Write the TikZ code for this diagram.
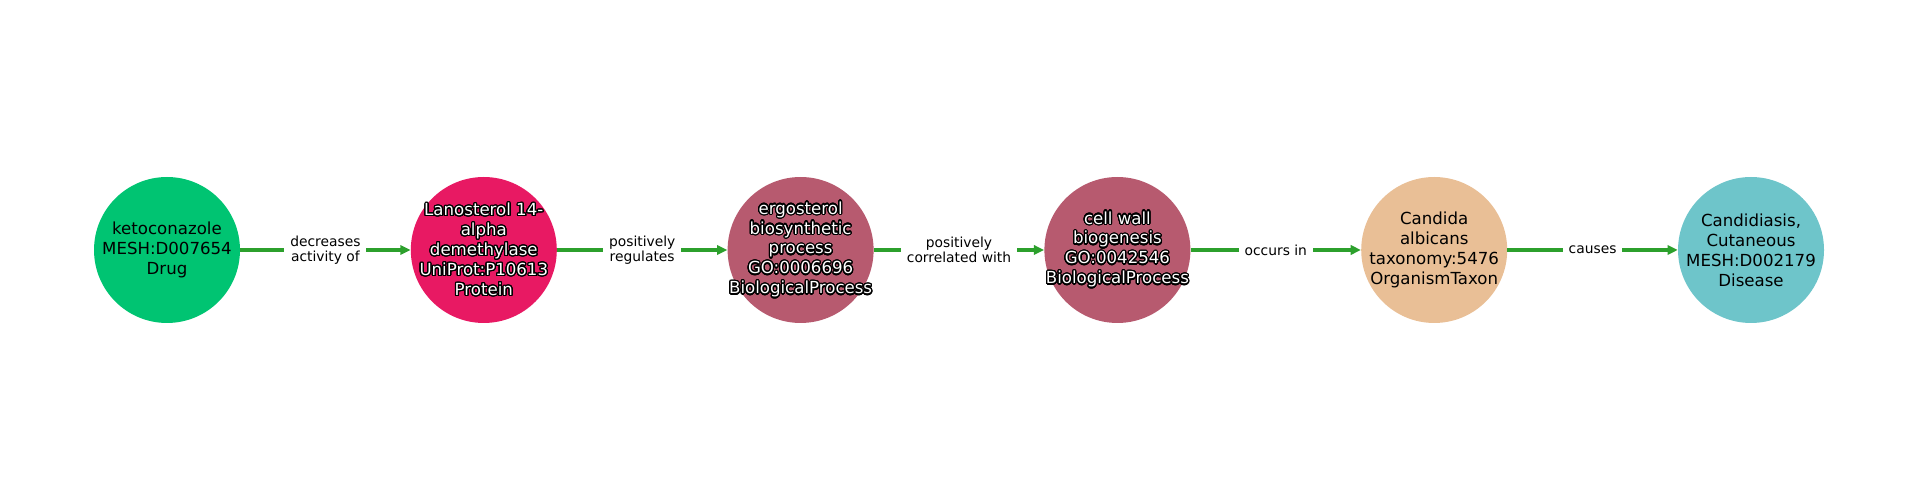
\documentclass[tikz,border=0pt]{standalone}
\usepackage{fontspec}
\setmainfont{DejaVu Sans}
\usepackage{contour}
\contourlength{0.9pt}
\contournumber{24}
\usepackage{tikz}
\usetikzlibrary{arrows.meta}
\definecolor{drugc}{RGB}{0,196,114}
\definecolor{protc}{RGB}{232,25,99}
\definecolor{procc}{RGB}{183,90,111}
\definecolor{taxc}{RGB}{233,191,150}
\definecolor{disc}{RGB}{110,197,202}
\definecolor{edgec}{RGB}{44,160,44}
\newcommand{\wt}[1]{\textcolor{white}{\contour{black}{#1}}}

\begin{document}
\begin{tikzpicture}[line cap=butt,line join=round,x=0.254mm,y=0.254mm,
    entity/.style={circle,draw=none,minimum size=37.08mm,inner sep=0pt},
    nodetext/.style={align=center,font=\fontsize{12}{14.4}\selectfont,inner sep=0pt},
    edgelabel/.style={fill=white,align=center,inner sep=4.3pt,font=\fontsize{10}{11}\selectfont},
    edge/.style={draw=edgec,line width=2.8pt,-{Triangle[length=7.4pt,width=6.7pt]}}]
        \useasboundingbox (0,0) rectangle (1920,500);
        \node[entity,fill=drugc,label={[nodetext]center:ketoconazole\\MESH:D007654\\Drug}] (keto) at (167,250) {};
        \node[entity,fill=protc,label={[nodetext]center:\wt{Lanosterol 14-}\\\wt{alpha}\\\wt{demethylase}\\\wt{UniProt:P10613}\\\wt{Protein}}] (lano) at (483.8,250) {};
        \node[entity,fill=procc,label={[nodetext]center:\wt{ergosterol}\\\wt{biosynthetic}\\\wt{process}\\\wt{GO:0006696}\\\wt{BiologicalProcess}}] (ergo) at (800.6,250) {};
        \node[entity,fill=procc,label={[nodetext]center:\wt{cell wall}\\\wt{biogenesis}\\\wt{GO:0042546}\\\wt{BiologicalProcess}}] (wall) at (1117.4,250) {};
        \node[entity,fill=taxc,label={[nodetext]center:Candida\\albicans\\taxonomy:5476\\OrganismTaxon}] (cand) at (1434.2,250) {};
        \node[entity,fill=disc,label={[nodetext]center:Candidiasis,\\Cutaneous\\MESH:D002179\\Disease}] (cuta) at (1751,250) {};
        \draw[edge] (keto) -- node[edgelabel] {decreases\\activity of} (lano);
        \draw[edge] (lano) -- node[edgelabel] {positively\\regulates} (ergo);
        \draw[edge] (ergo) -- node[edgelabel] {positively\\correlated with} (wall);
        \draw[edge] (wall) -- node[edgelabel] {occurs in} (cand);
        \draw[edge] (cand) -- node[edgelabel] {causes} (cuta);
    \end{tikzpicture}
\end{document}
